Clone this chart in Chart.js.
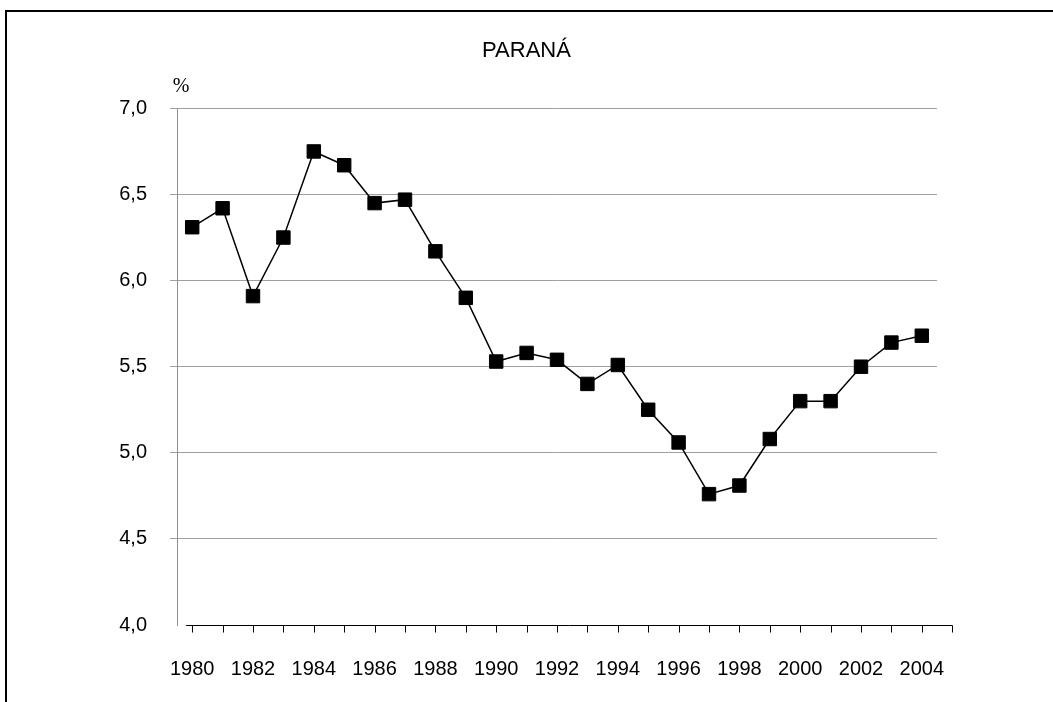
<!DOCTYPE html>
<html>
<head>
<meta charset="utf-8">
<title>PARANÁ</title>
<script src="https://cdn.jsdelivr.net/npm/chart.js@4/dist/chart.umd.min.js"></script>
<style>
  html, body { margin: 0; padding: 0; background: #fff; overflow: hidden; }
  .box { position: relative; width: 1053px; height: 702px; }
  .frame { position: absolute; left: 5px; top: 10px; width: 1200px; height: 800px;
           border-left: 2px solid #000; border-top: 2px solid #000; pointer-events: none; }
</style>
</head>
<body>
<div class="box">
  <canvas id="myChart" width="1053" height="702"></canvas>
  <div class="frame"></div>
</div>
<script>
var years = ["1980","1981","1982","1983","1984","1985","1986","1987","1988","1989",
             "1990","1991","1992","1993","1994","1995","1996","1997","1998","1999",
             "2000","2001","2002","2003","2004"];
var rates = [6.31,6.42,5.91,6.25,6.75,6.67,6.45,6.47,6.17,5.90,
             5.53,5.58,5.54,5.40,5.51,5.25,5.06,4.76,4.81,5.08,
             5.30,5.30,5.50,5.64,5.68];
var yTicks = [4.0,4.5,5.0,5.5,6.0,6.5,7.0];
var chartTitle = "PARANÁ";
var unitLabel = "%";

// x axis line + tick marks (one more tick than categories, like the original)
var xAxisLine = {
    id: 'xAxisLine',
    afterDraw: function(chart){
        var ctx = chart.ctx;
        var xs = chart.scales.x;
        var y0 = chart.chartArea.bottom + 0.5;
        ctx.save();
        ctx.strokeStyle = "#000";
        ctx.lineWidth = 1;
        ctx.beginPath();
        ctx.moveTo(xs.getPixelForValue(-0.2), y0);
        ctx.lineTo(Math.round(xs.getPixelForValue(years.length)) + 0.5, y0);
        for (var i = 0; i <= years.length; i++) {
            var px = Math.round(xs.getPixelForValue(i)) + 0.5;
            ctx.moveTo(px, y0);
            ctx.lineTo(px, y0 + 7);
        }
        ctx.stroke();
        // unit label above the value axis
        ctx.fillStyle = "#000";
        ctx.font = '20px "Liberation Serif", "DejaVu Serif", serif';
        ctx.textAlign = "center";
        ctx.textBaseline = "middle";
        ctx.fillText(unitLabel, chart.chartArea.left + 4, chart.chartArea.top - 22);
        ctx.restore();
    }
};

var tickFont = { family: '"Liberation Sans", Arial, sans-serif', size: 20 };
var gridColor = function(c){ return c.tick && c.tick.value === 4 ? "rgba(0,0,0,0)" : "#a0a0a0"; };

new Chart("myChart", {
    type: "line",
    data: {
        labels: years,
        datasets: [{
            data: rates,
            borderColor: "#000",
            borderWidth: 1.5,
            backgroundColor: "#000",
            pointStyle: "rect",
            pointRadius: 9.5,
            pointBorderWidth: 1,
            pointBorderColor: "#000",
            pointBackgroundColor: "#000",
            tension: 0,
            fill: false
        }]
    },
    options: {
        responsive: false,
        animation: false,
        layout: { padding: 0 },
        plugins: {
            legend: { display: false },
            tooltip: { enabled: false },
            title: {
                display: true,
                text: chartTitle,
                color: "#000",
                font: { family: '"Liberation Sans", Arial, sans-serif', size: 22, weight: "normal", lineHeight: 1.2 },
                padding: { top: 38, bottom: 44 }
            }
        },
        scales: {
            x: {
                type: "category",
                offset: true,
                grid: { display: false, drawTicks: false },
                border: { display: false },
                ticks: {
                    autoSkip: false,
                    maxRotation: 0,
                    padding: 32,
                    color: "#000",
                    font: tickFont,
                    callback: function(val, idx){ return idx % 2 === 0 ? years[idx] : ""; }
                },
                afterFit: function(scale){ scale.height = 77; }
            },
            y: {
                min: 4,
                max: 7,
                afterBuildTicks: function(scale){
                    scale.ticks = yTicks.map(function(v){ return { value: v }; });
                },
                grid: { color: gridColor, tickColor: gridColor, tickLength: 7, lineWidth: 1 },
                border: { color: "#909090", width: 1 },
                ticks: {
                    padding: 23,
                    color: "#000",
                    font: tickFont,
                    callback: function(v){ return v.toFixed(1).replace(".", ","); }
                },
                afterFit: function(scale){ scale.width = 177; }
            },
            // empty right-hand axis, only keeps the plot clear of the right margin
            yRight: {
                position: "right",
                min: 4,
                max: 7,
                grid: { display: false, drawTicks: false },
                border: { display: false },
                ticks: { display: false },
                afterFit: function(scale){ scale.width = 116; }
            }
        }
    },
    plugins: [xAxisLine]
});
</script>
</body>
</html>
